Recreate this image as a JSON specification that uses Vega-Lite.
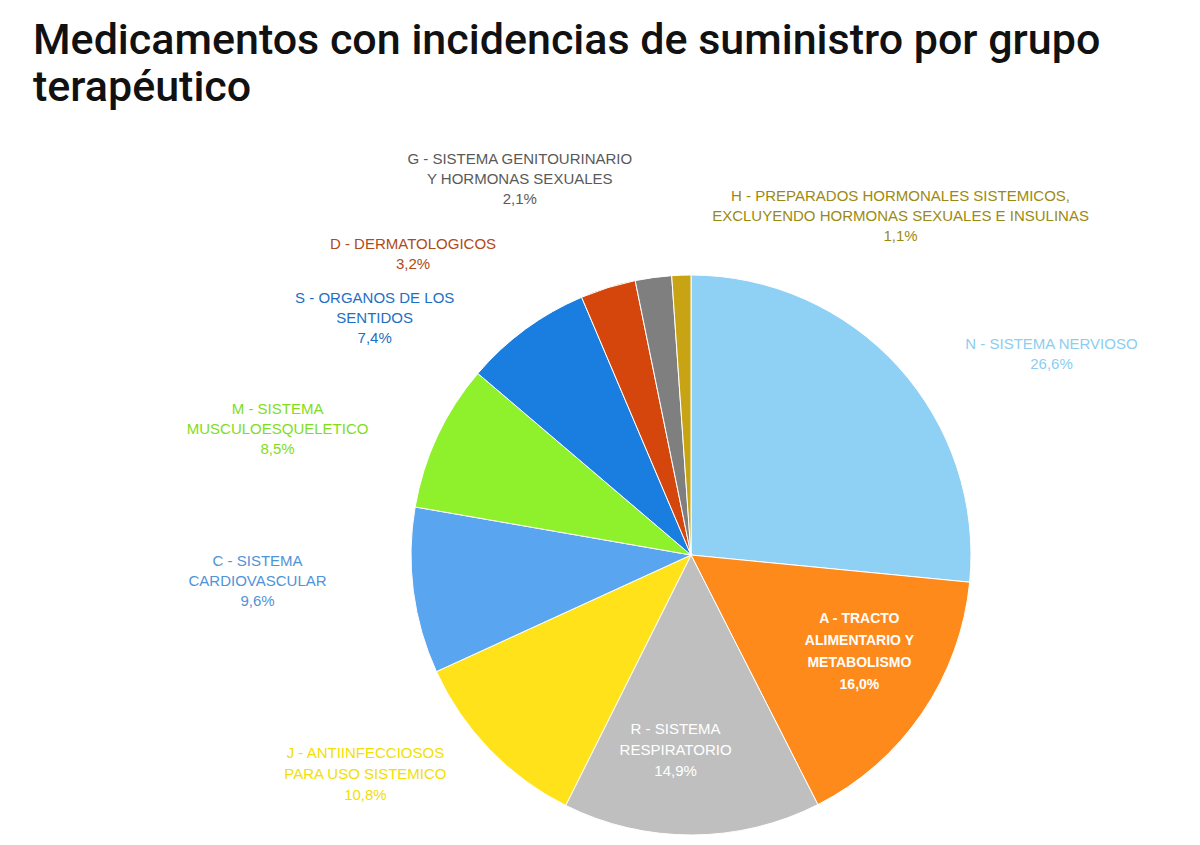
{
  "$schema": "https://vega.github.io/schema/vega-lite/v6.json",
  "width": 560,
  "height": 560,
  "autosize": {"type": "none"},
  "padding": {"left": 411, "top": 275, "right": 229, "bottom": 10},
  "background": "white",
  "config": {"view": {"stroke": null}},
  "title": {
    "text": ["Medicamentos con incidencias de suministro por grupo", "terapéutico"],
    "anchor": "start",
    "frame": "group",
    "font": "Roboto",
    "fontSize": 43,
    "fontWeight": 500,
    "color": "#111111",
    "lineHeight": 47,
    "dx": -378,
    "offset": -45
  },
  "data": {
    "values": [
      {"grupo": "N", "orden": 1, "valor": 26.6, "label": "N - SISTEMA NERVIOSO\n26,6%"},
      {"grupo": "A", "orden": 2, "valor": 16.0, "label": "A - TRACTO\nALIMENTARIO Y\nMETABOLISMO\n16,0%"},
      {"grupo": "R", "orden": 3, "valor": 14.9, "label": "R - SISTEMA\nRESPIRATORIO\n14,9%"},
      {"grupo": "J", "orden": 4, "valor": 10.8, "label": "J - ANTIINFECCIOSOS\nPARA USO SISTEMICO\n10,8%"},
      {"grupo": "C", "orden": 5, "valor": 9.6, "label": "C - SISTEMA\nCARDIOVASCULAR\n9,6%"},
      {"grupo": "M", "orden": 6, "valor": 8.5, "label": "M - SISTEMA\nMUSCULOESQUELETICO\n8,5%"},
      {"grupo": "S", "orden": 7, "valor": 7.4, "label": "S - ORGANOS DE LOS\nSENTIDOS\n7,4%"},
      {"grupo": "D", "orden": 8, "valor": 3.2, "label": "D - DERMATOLOGICOS\n3,2%"},
      {"grupo": "G", "orden": 9, "valor": 2.1, "label": "G - SISTEMA GENITOURINARIO\nY HORMONAS SEXUALES\n2,1%"},
      {"grupo": "H", "orden": 10, "valor": 1.1, "label": "H - PREPARADOS HORMONALES SISTEMICOS,\nEXCLUYENDO HORMONAS SEXUALES E INSULINAS\n1,1%"}
    ]
  },
  "encoding": {
    "theta": {"field": "valor", "type": "quantitative", "stack": true},
    "order": {"field": "orden", "type": "quantitative"}
  },
  "layer": [
    {
      "mark": {"type": "arc", "stroke": "white", "strokeWidth": 1},
      "encoding": {
        "color": {
          "field": "grupo", "type": "nominal", "legend": null,
          "scale": {
            "domain": ["N", "A", "R", "J", "C", "M", "S", "D", "G", "H"],
            "range": ["#8fd0f5", "#ff8a1c", "#bfbfbf", "#ffe21a", "#5aa5f0", "#8ff02c", "#1a7de0", "#d4460c", "#7f7f7f", "#c8a415"]
          }
        }
      }
    },
    {
      "mark": {"type": "text", "radius": 403, "dx": 62, "dy": 60, "lineBreak": "\n", "font": "Liberation Sans", "fontSize": 15, "lineHeight": 20, "color": "#8ccdf0", "align": "center", "baseline": "middle"},
      "encoding": {"text": {"condition": {"test": "datum.grupo === 'N'", "field": "label", "type": "nominal"}, "value": ""}}
    },
    {
      "mark": {"type": "text", "radius": 193, "dx": 9, "dy": -45, "lineBreak": "\n", "font": "Liberation Sans", "fontSize": 14, "fontWeight": "bold", "lineHeight": 22, "color": "#ffffff", "align": "center", "baseline": "middle"},
      "encoding": {"text": {"condition": {"test": "datum.grupo === 'A'", "field": "label", "type": "nominal"}, "value": ""}}
    },
    {
      "mark": {"type": "text", "radius": 194, "dx": -16, "dy": -20, "lineBreak": "\n", "font": "Liberation Sans", "fontSize": 15, "lineHeight": 21, "color": "#ffffff", "align": "center", "baseline": "middle"},
      "encoding": {"text": {"condition": {"test": "datum.grupo === 'R'", "field": "label", "type": "nominal"}, "value": ""}}
    },
    {
      "mark": {"type": "text", "radius": 386, "dx": -48, "dy": -70, "lineBreak": "\n", "font": "Liberation Sans", "fontSize": 15, "lineHeight": 21, "color": "#f2e000", "align": "center", "baseline": "middle"},
      "encoding": {"text": {"condition": {"test": "datum.grupo === 'J'", "field": "label", "type": "nominal"}, "value": ""}}
    },
    {
      "mark": {"type": "text", "radius": 433, "dx": -4, "dy": -50, "lineBreak": "\n", "font": "Liberation Sans", "fontSize": 15, "lineHeight": 20, "color": "#4f93d8", "align": "center", "baseline": "middle"},
      "encoding": {"text": {"condition": {"test": "datum.grupo === 'C'", "field": "label", "type": "nominal"}, "value": ""}}
    },
    {
      "mark": {"type": "text", "radius": 428, "dx": -26, "dy": 36, "lineBreak": "\n", "font": "Liberation Sans", "fontSize": 15, "lineHeight": 20, "color": "#7fdd20", "align": "center", "baseline": "middle"},
      "encoding": {"text": {"condition": {"test": "datum.grupo === 'M'", "field": "label", "type": "nominal"}, "value": ""}}
    },
    {
      "mark": {"type": "text", "radius": 379, "dx": -92, "dy": 48, "lineBreak": "\n", "font": "Liberation Sans", "fontSize": 15, "lineHeight": 20, "color": "#1d6fc4", "align": "center", "baseline": "middle"},
      "encoding": {"text": {"condition": {"test": "datum.grupo === 'S'", "field": "label", "type": "nominal"}, "value": ""}}
    },
    {
      "mark": {"type": "text", "radius": 371, "dx": -168, "dy": 43, "lineBreak": "\n", "font": "Liberation Sans", "fontSize": 15, "lineHeight": 20, "color": "#b04a16", "align": "center", "baseline": "middle"},
      "encoding": {"text": {"condition": {"test": "datum.grupo === 'D'", "field": "label", "type": "nominal"}, "value": ""}}
    },
    {
      "mark": {"type": "text", "radius": 396, "dx": -118, "dy": -4, "lineBreak": "\n", "font": "Liberation Sans", "fontSize": 15, "lineHeight": 20, "color": "#595959", "align": "center", "baseline": "middle"},
      "encoding": {"text": {"condition": {"test": "datum.grupo === 'G'", "field": "label", "type": "nominal"}, "value": ""}}
    },
    {
      "mark": {"type": "text", "radius": 332, "dx": 221, "dy": -27, "lineBreak": "\n", "font": "Liberation Sans", "fontSize": 15, "lineHeight": 20, "color": "#9c8a10", "align": "center", "baseline": "middle"},
      "encoding": {"text": {"condition": {"test": "datum.grupo === 'H'", "field": "label", "type": "nominal"}, "value": ""}}
    }
  ]
}
